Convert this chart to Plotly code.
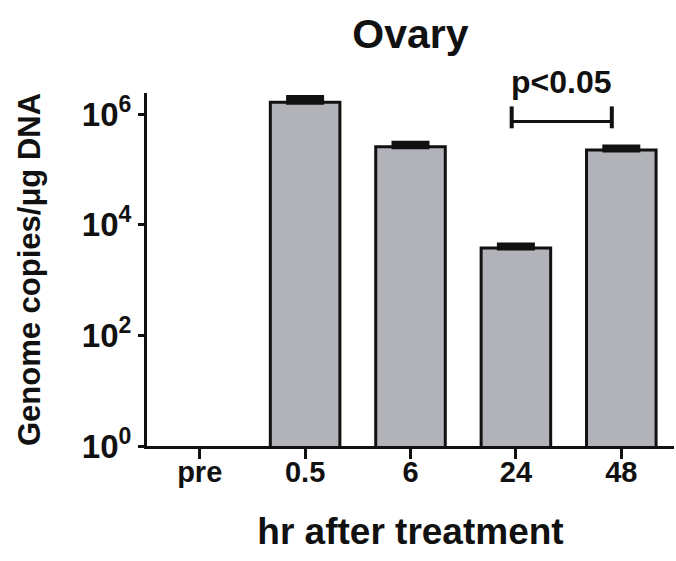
import plotly.graph_objects as go

categories = ["pre", "0.5", "6", "24", "48"]
values = [None, 1.63e6, 2.55e5, 3.8e3, 2.24e5]
errors_up = [0, 0.35e6, 0.4e5, 0.5e3, 0.3e5]
ytick_vals = [1, 1e2, 1e4, 1e6]
ytick_text = ["10<sup>0</sup>", "10<sup>2</sup>", "10<sup>4</sup>", "10<sup>6</sup>"]

FONT = "Liberation Sans, Arial, sans-serif"

fig = go.Figure()
fig.add_trace(go.Bar(
    x=list(range(len(categories))),
    y=values,
    width=0.66,
    marker=dict(color="#b2b3b8", line=dict(color="#111111", width=3)),
    error_y=dict(type="data", symmetric=False, array=errors_up,
                 arrayminus=[0] * len(values), color="#111111",
                 thickness=5, width=19),
    showlegend=False,
    hoverinfo="skip",
))

fig.update_layout(
    width=676, height=561,
    margin=dict(l=147, r=2, t=93, b=115),
    plot_bgcolor="white", paper_bgcolor="white",
    font=dict(family=FONT, color="#111111"),
    title=dict(text="<b>Ovary</b>", x=0.5, xref="paper", xanchor="center",
               y=0.94, yref="container", yanchor="middle",
               font=dict(size=41, family=FONT, color="#111111")),
    bargap=0.34,
)

fig.update_xaxes(
    range=[-0.5, 4.5], automargin=False,
    tickmode="array", tickvals=list(range(len(categories))),
    ticktext=["<b>%s</b>" % c for c in categories],
    tickfont=dict(size=29, family=FONT, color="#111111"),
    ticklabelstandoff=-12,
    showline=True, linecolor="#111111", linewidth=3,
    ticks="outside", ticklen=10, tickwidth=3, tickcolor="#111111",
    showgrid=False, zeroline=False,
    title=dict(text="<b>hr after treatment</b>", standoff=32,
               font=dict(size=37, family=FONT, color="#111111")),
)

fig.update_yaxes(
    type="log", range=[0, 6.38], automargin=False,
    tickmode="array", tickvals=ytick_vals,
    ticktext=["<b>%s</b>" % t for t in ytick_text],
    tickfont=dict(size=33, family=FONT, color="#111111"),
    showline=True, linecolor="#111111", linewidth=3,
    ticks="outside", ticklen=6, tickwidth=3, tickcolor="#111111",
    showgrid=False, zeroline=False,
    title=dict(text="<b>Genome copies/μg DNA</b>", standoff=32,
               font=dict(size=31, family=FONT, color="#111111")),
)

# significance bracket between 24 h and 48 h
bx0, bx1 = 2.96, 3.91
fig.add_shape(type="line", xref="x", yref="paper", x0=bx0, x1=bx1,
              y0=0.919, y1=0.919, line=dict(color="#111111", width=3))
for bx in (bx0, bx1):
    fig.add_shape(type="line", xref="x", yref="paper", x0=bx, x1=bx,
                  y0=0.90, y1=0.962, line=dict(color="#111111", width=4))
fig.add_annotation(x=(bx0 + bx1) / 2, xref="x", y=0.975, yref="paper",
                   yanchor="bottom", showarrow=False,
                   text="<b>p<0.05</b>",
                   font=dict(size=32, family=FONT, color="#111111"))

fig.write_html("out.html", config={"displayModeBar": False},
               post_script="document.body.style.margin='0';")
